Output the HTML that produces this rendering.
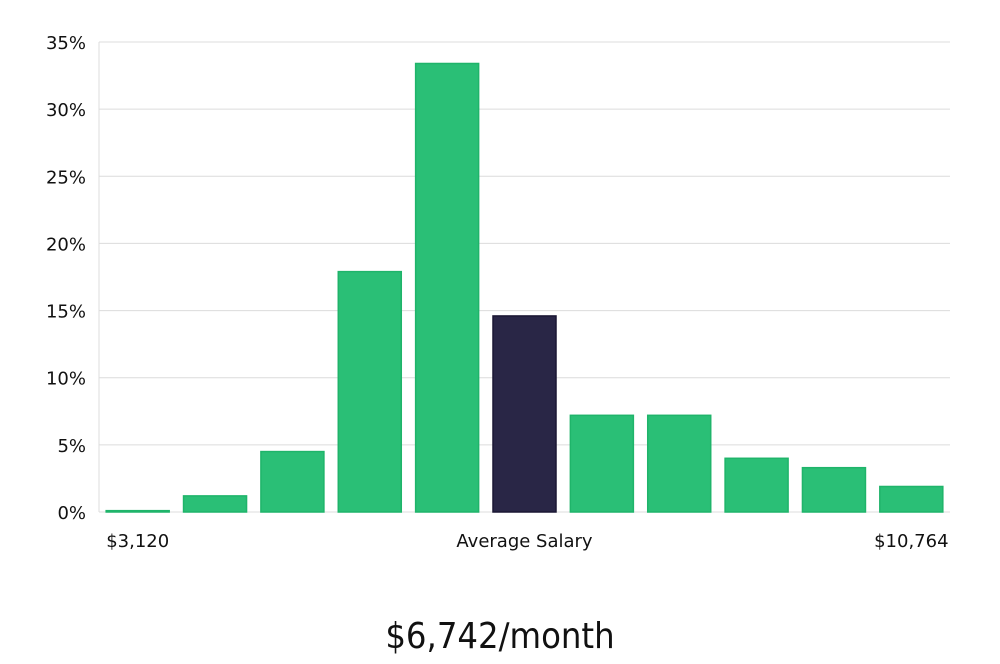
<!DOCTYPE html>
<html><head><meta charset="utf-8"><style>
body{margin:0;background:#fff;width:1000px;height:660px;overflow:hidden;font-family:"DejaVu Sans","Liberation Sans",sans-serif;}
</style></head><body>
<svg id="chart" width="1000" height="660" xmlns="http://www.w3.org/2000/svg">
<g id="grid"></g><g id="bars"></g><g id="labels"></g>
<text x="500" y="648" text-anchor="middle" font-family="'DejaVu Sans Condensed','DejaVu Sans',sans-serif" font-weight="300" font-size="36" fill="#111">$6,742/month</text>
</svg>
<script>
const categories=["b1","b2","b3","b4","b5","b6","b7","b8","b9","b10","b11"];
const values=[0.1,1.2,4.5,17.9,33.4,14.6,7.2,7.2,4.0,3.3,1.9];
const highlight=[false,false,false,false,false,true,false,false,false,false,false];
const yTicks=[0,5,10,15,20,25,30,35];
const xLabels=["$3,120","Average Salary","$10,764"];
const NS="http://www.w3.org/2000/svg";
const x0=99,x1=950,yBase=512,yTop=42,yMax=35;
const y=v=>yBase-(v/yMax)*(yBase-yTop);
const step=(x1-x0)/categories.length;
const xc=i=>x0+step*(i+0.5);
function mk(tag,attrs,parent){const e=document.createElementNS(NS,tag);for(const k in attrs)e.setAttribute(k,attrs[k]);parent.appendChild(e);return e;}
const grid=document.getElementById('grid'),bars=document.getElementById('bars'),labels=document.getElementById('labels');
mk('line',{x1:x0,x2:x0,y1:yTop,y2:yBase,stroke:'#ddd'},grid);
yTicks.forEach(t=>{
  const l=mk('line',{x1:x0,x2:x1,y1:y(t),y2:y(t),stroke:'#dcdcdc'},grid);
  
  
  const tx=mk('text',{x:86,y:y(t)+7,'text-anchor':'end','font-size':18,fill:'#111'},labels);
  tx.textContent=t+'%';
  
  
});
values.forEach((v,i)=>{
  const w=63;
  const r=mk('rect',{x:xc(i)-w/2,y:y(v),width:w,height:yBase-y(v),fill:highlight[i]?'#292646':'#2abf76',stroke:highlight[i]?'#1a1733':'#1fb46a','stroke-width':1.5},bars);
  
  
});
const xl=[[xc(0),'middle'],[xc(5),'middle'],[xc(10),'middle']];
xLabels.forEach((s,i)=>{
  const t=mk('text',{x:xl[i][0],y:547,'text-anchor':xl[i][1],'font-size':18,fill:'#111'},labels);
  t.textContent=s;
  
  
});
</script>
</body></html>
